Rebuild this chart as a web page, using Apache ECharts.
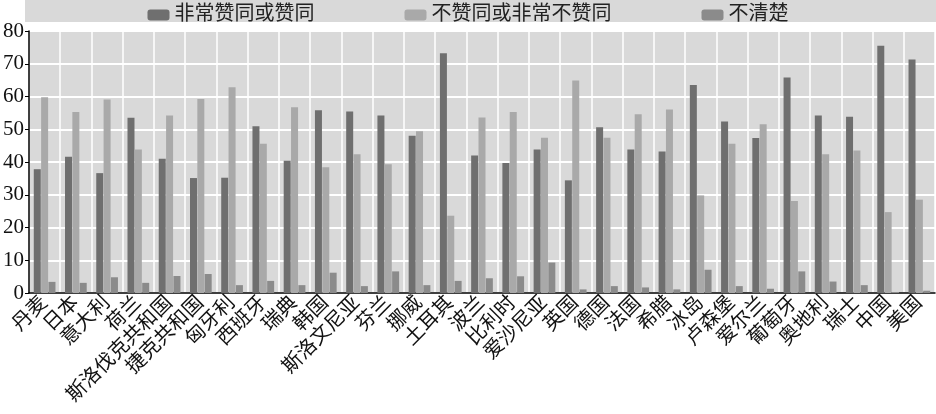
<!DOCTYPE html>
<html>
<head>
<meta charset="utf-8">
<script src="https://cdn.jsdelivr.net/npm/echarts@6/dist/echarts.min.js"></script>
<style>
  html, body { margin: 0; padding: 0; background: #fff; }
  #chart { width: 936px; height: 414px; }
</style>
</head>
<body>
<div id="chart"></div>
<script>
// 国家
const countries = [
  "丹麦", "日本", "意大利", "荷兰", "斯洛伐克共和国", "捷克共和国", "匈牙利", "西班牙",
  "瑞典", "韩国", "斯洛文尼亚", "芬兰", "挪威", "土耳其", "波兰", "比利时", "爱沙尼亚",
  "英国", "德国", "法国", "希腊", "冰岛", "卢森堡", "爱尔兰", "葡萄牙", "奥地利", "瑞士",
  "中国", "美国"
];
// 非常赞同或赞同
const agree = [
  37.8, 41.6, 36.6, 53.5, 41.0, 35.1, 35.2, 50.9, 40.4, 55.8, 55.4, 54.2, 48.0, 73.2, 42.0,
  39.7, 43.8, 34.4, 50.6, 43.8, 43.2, 63.5, 52.4, 47.3, 65.8, 54.2, 53.8, 75.5, 71.3
];
// 不赞同或非常不赞同
const disagree = [
  59.8, 55.3, 59.1, 43.8, 54.2, 59.2, 62.8, 45.6, 56.7, 38.4, 42.4, 39.3, 49.4, 23.6, 53.6,
  55.3, 47.4, 64.9, 47.4, 54.6, 56.0, 29.8, 45.6, 51.5, 28.1, 42.4, 43.5, 24.7, 28.5
];
// 不清楚
const unclear = [
  3.4, 3.1, 4.8, 3.1, 5.2, 5.8, 2.4, 3.7, 2.4, 6.2, 2.1, 6.6, 2.4, 3.7, 4.5,
  5.1, 9.3, 1.1, 2.1, 1.7, 1.1, 7.1, 2.1, 1.3, 6.6, 3.5, 2.4, 0.3, 0.7
];
const seriesNames = ["非常赞同或赞同", "不赞同或非常不赞同", "不清楚"];
const yTicks = { min: 0, max: 80, interval: 10 };

const font = "'Liberation Serif', 'Noto Sans CJK SC', serif";

const chart = echarts.init(document.getElementById("chart"));
const makeBar = (name, data) => ({
  name,
  type: "bar",
  data,
  barWidth: 7,
  barGap: "5%",
});

chart.setOption({
  animation: false,
  color: ["#6f6f6f", "#a9a9a9", "#8b8b8b"],
  // 图例背景条
  graphic: [
    {
      type: "rect",
      left: 25,
      top: 0,
      shape: { width: 911, height: 22 },
      style: { fill: "#d9d9d9" },
      z: -1,
    },
  ],
  legend: {
    data: seriesNames,
    left: "center",
    top: 0,
    itemWidth: 22,
    itemHeight: 11,
    itemGap: 90,
    textStyle: { fontSize: 20, color: "#222", fontFamily: font },
  },
  grid: {
    left: 25,
    right: 1,
    top: 31,
    bottom: 121,
    show: true,
    backgroundColor: "#d9d9d9",
    borderWidth: 0,
  },
  xAxis: {
    type: "category",
    data: countries,
    axisLine: { lineStyle: { color: "#000", width: 1.5 } },
    axisTick: { inside: true, length: 4, lineStyle: { color: "#000", width: 1.5 } },
    splitLine: { show: true, lineStyle: { color: "#fff", width: 1.5 } },
    axisLabel: {
      interval: 0,
      rotate: 45,
      margin: 7,
      fontSize: 20,
      color: "#111",
      fontFamily: font,
    },
  },
  yAxis: {
    type: "value",
    min: yTicks.min,
    max: yTicks.max,
    interval: yTicks.interval,
    axisLine: { show: true, lineStyle: { color: "#000", width: 1.5 } },
    axisTick: { show: true, length: 4, lineStyle: { color: "#000" } },
    splitLine: { lineStyle: { color: "#fff", width: 2 } },
    axisLabel: { margin: 5, fontSize: 21, color: "#111", fontFamily: font },
  },
  series: [
    makeBar(seriesNames[0], agree),
    makeBar(seriesNames[1], disagree),
    makeBar(seriesNames[2], unclear),
  ],
});
</script>
</body>
</html>
